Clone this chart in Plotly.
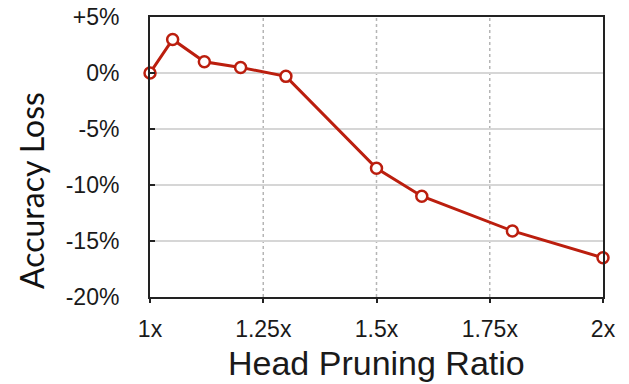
import plotly.graph_objects as go

ratios = [1.0, 1.05, 1.12, 1.20, 1.30, 1.50, 1.60, 1.80, 2.0]
acc_loss = [0.0, 3.0, 1.0, 0.5, -0.3, -8.5, -11.0, -14.1, -16.5]

x_tickvals = [1.0, 1.25, 1.5, 1.75, 2.0]
x_ticktext = ["1x", "1.25x", "1.5x", "1.75x", "2x"]
y_tickvals = [5, 0, -5, -10, -15, -20]
y_ticktext = ["+5%", "0%", "-5%", "-10%", "-15%", "-20%"]

red = "#bb1e0e"
font = "Liberation Sans, Arial, sans-serif"

L, R, T, B = 150, 26, 17, 87
W, H = 629, 384
pw, ph = W - L - R, H - T - B

def px_to_paper_x(px):
    return (px - L) / pw

def px_to_paper_y(py):
    return (H - B - py) / ph

fig = go.Figure()
fig.add_trace(go.Scatter(
    x=ratios, y=acc_loss, mode="lines+markers",
    line=dict(color=red, width=3),
    marker=dict(symbol="circle", size=11, color="white", line=dict(color=red, width=2.5)),
    cliponaxis=False, showlegend=False,
))

# dotted vertical gridlines
for xv in [1.25, 1.5, 1.75]:
    fig.add_shape(type="line", x0=xv, x1=xv, y0=-20, y1=5, xref="x", yref="y",
                  line=dict(color="#b5b5b5", width=1.5, dash="dot"), layer="below")

fig.add_annotation(text="Head Pruning Ratio", xref="paper", yref="paper",
                   x=px_to_paper_x(376), y=px_to_paper_y(363),
                   xanchor="center", yanchor="middle", showarrow=False,
                   font=dict(size=34, family=font, color="#1a1a1a"))
fig.add_annotation(text="Accuracy Loss", xref="paper", yref="paper",
                   x=px_to_paper_x(31), y=px_to_paper_y(191),
                   xanchor="center", yanchor="middle", showarrow=False, textangle=-90,
                   font=dict(size=32, family="Lato, Open Sans, sans-serif", color="#111"))

fig.update_layout(
    width=W, height=H,
    margin=dict(l=L, r=R, t=T, b=B, autoexpand=False),
    paper_bgcolor="white", plot_bgcolor="white",
    font=dict(family=font, color="#1a1a1a"),
    xaxis=dict(
        range=[1.0, 2.0], tickvals=x_tickvals, ticktext=x_ticktext,
        showgrid=False, zeroline=False, automargin=False,
        showline=True, linecolor="#222", linewidth=2, mirror=True,
        ticks="outside", ticklen=4, tickwidth=2, tickcolor="#222",
        tickfont=dict(size=23, family=font), ticklabelstandoff=6,
    ),
    yaxis=dict(
        range=[-20, 5], tickvals=y_tickvals, ticktext=y_ticktext,
        showgrid=True, gridcolor="#d6d6d6", gridwidth=1.5, zeroline=False, automargin=False,
        showline=True, linecolor="#222", linewidth=2, mirror=True,
        ticks="inside", ticklen=5, tickwidth=2, tickcolor="#222",
        tickfont=dict(size=23, family=font), ticklabelstandoff=24,
    ),
)

fig.write_html("out.html")
